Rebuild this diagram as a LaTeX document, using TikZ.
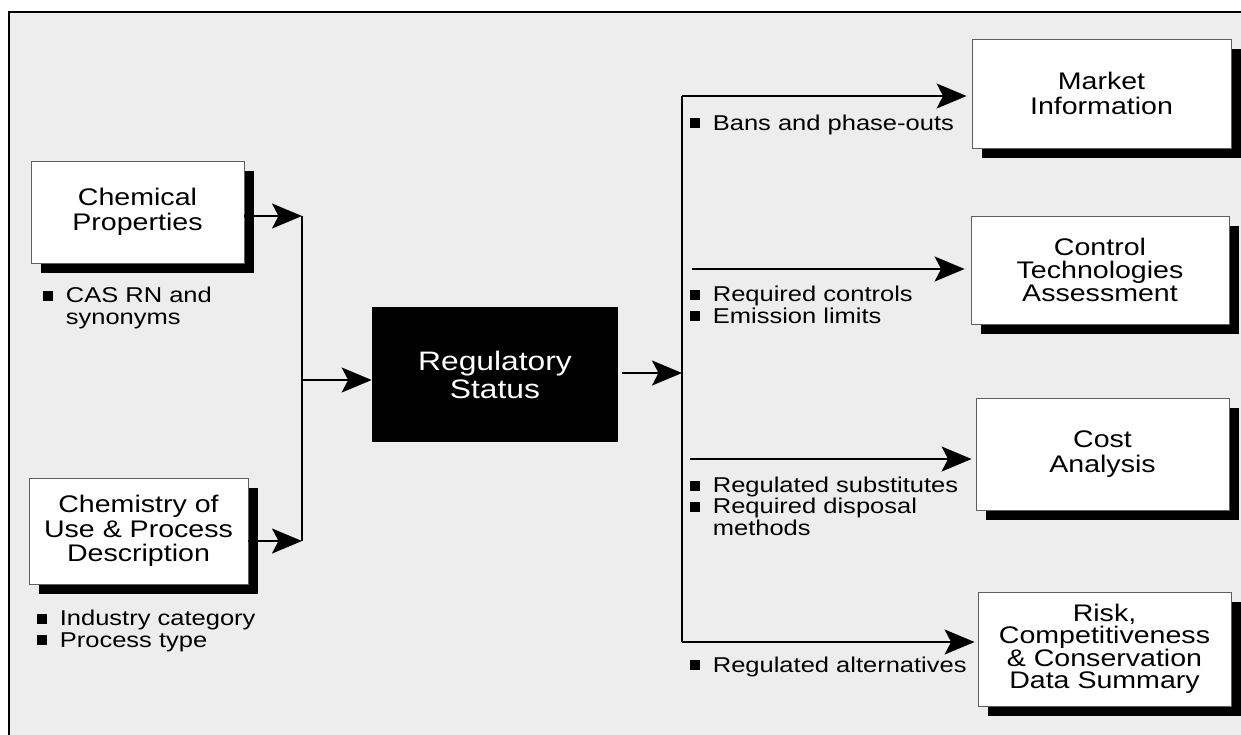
\documentclass[tikz,border=0pt]{standalone}
\usepackage{fontspec}
\setmainfont{Liberation Sans}[FakeStretch=1.19]
\usetikzlibrary{arrows.meta,shadows}

\definecolor{panelgray}{RGB}{237,237,237}
\definecolor{edgegray}{RGB}{95,95,95}

%% square bullet and the indent for a wrapped line
\newcommand{\sqbul}{\makebox[0.45cm][l]{\rule[0.035cm]{0.2cm}{0.2cm}}}
\newcommand{\sqskip}{\hspace*{0.45cm}}

\tikzset{
  infobox/.style={draw=edgegray, line width=0.5pt, fill=white, align=center, inner sep=0pt,
    font=\fontsize{13.66}{13.9}\selectfont,
    drop shadow={shadow xshift=0.2cm, shadow yshift=-0.2cm, opacity=1, fill=black}},
  keybox/.style={fill=black, text=white, align=center, inner sep=0pt,
    font=\fontsize{15.2}{15.9}\selectfont},
  %% notes sit on the baseline of their last line
  notes/.style={anchor=base west, align=left, inner sep=0pt,
    font=\fontsize{12.2}{12.0}\selectfont},
  feed/.style={line width=1.1pt, -{Stealth[length=0.6cm,width=0.5cm,inset=0.13cm]}},
  bus/.style={line width=1pt}
}

\begin{document}
\begin{tikzpicture}[x=0.02cm,y=-0.02cm]
        \useasboundingbox (0,0) rectangle (1241,734);
        \clip (0,0) rectangle (1241,734);
        \draw[line width=0.8pt, fill=panelgray] (9,12) rectangle (1270,770);

        %% inputs
        \node[infobox, minimum width=4.26cm, minimum height=2.04cm] (chem) at (137.5,212)
          {Chemical\\Properties};
        \node[infobox, minimum width=4.38cm, minimum height=2.12cm, font=\fontsize{13.66}{14.0}\selectfont] (proc) at (138.5,531)
          {Chemistry of\\Use \& Process\\Description};
        \node[notes] (casnote) at (43,324) {\sqbul CAS RN and\\\sqskip synonyms};
        \node[notes] (indnote) at (37,647) {\sqbul Industry category\\\sqbul Process type};

        %% centre
        \node[keybox, minimum width=4.92cm, minimum height=2.70cm] (reg) at (495,374.5)
          {Regulatory\\Status};

        %% outputs
        \node[infobox, minimum width=5.18cm, minimum height=2.18cm] (market) at (1101.5,93.5)
          {Market\\Information};
        \node[infobox, minimum width=5.16cm, minimum height=2.16cm, font=\fontsize{13.66}{13.1}\selectfont] (ctech) at (1100,270)
          {Control\\Technologies\\Assessment};
        \node[infobox, minimum width=5.06cm, minimum height=2.24cm] (cost) at (1102.5,454)
          {Cost\\Analysis};
        \node[infobox, minimum width=5.06cm, minimum height=2.28cm, font=\fontsize{13.66}{12.8}\selectfont] (risk) at (1104.5,649)
          {Risk,\\Competitiveness\\\& Conservation\\Data Summary};

        \node[notes] (bansnote) at (690,130) {\sqbul Bans and phase-outs};
        \node[notes] (ctrlnote) at (690,323) {\sqbul Required controls\\\sqbul Emission limits};
        \node[notes] (subsnote) at (690,535) {\sqbul Regulated substitutes\\\sqbul Required disposal\\\sqskip methods};
        \node[notes] (altnote) at (690,672) {\sqbul Regulated alternatives};

        %% joints
        \coordinate (jA) at (302,216);
        \coordinate (jB) at (302,541);
        \coordinate (jIn) at (302,380);
        \coordinate (jOut) at (682,373);
        \coordinate (rTop) at (682,96);
        \coordinate (rBot) at (682,642);
        \coordinate (oB) at (692,269);
        \coordinate (oC) at (690,459);

        \draw[bus] (jA) -- (jB);
        \draw[feed] (chem.east |- jA) -- (jA);
        \draw[feed] (proc.east |- jB) -- (jB);
        \draw[feed] (jIn) -- (jIn -| reg.west);
        \draw[feed, shorten <=0.08cm] (reg.east |- jOut) -- (jOut);

        \draw[bus] (rTop) -- (rBot);
        \draw[feed, shorten >=0.1cm] (rTop) -- (rTop -| market.west);
        \draw[feed, shorten >=0.12cm] (oB) -- (oB -| ctech.west);
        \draw[feed, shorten >=0.08cm] (oC) -- (oC -| cost.west);
        \draw[feed, shorten >=0.06cm] (rBot) -- (rBot -| risk.west);
      \end{tikzpicture}
\end{document}
